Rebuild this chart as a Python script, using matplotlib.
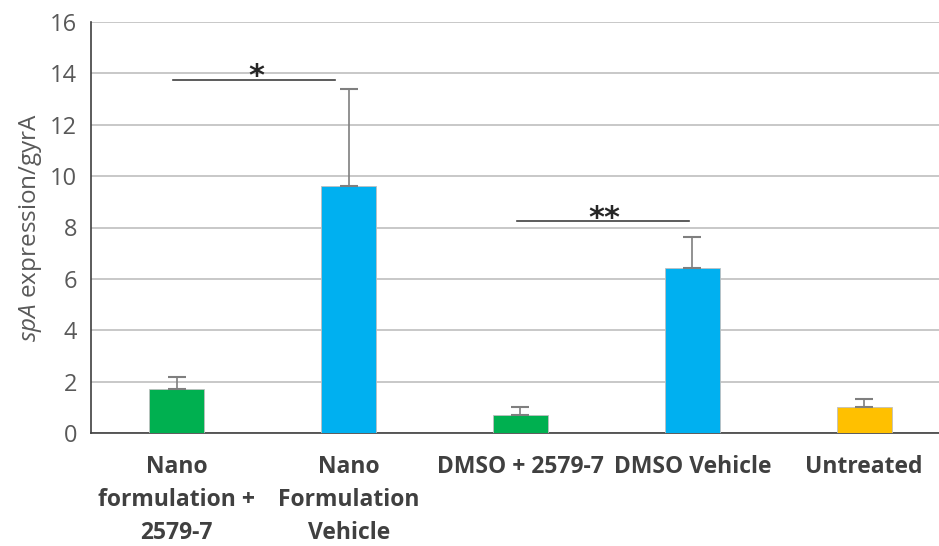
import numpy as np
import matplotlib
matplotlib.use('Agg')
from matplotlib import pyplot as plt

categories = ['Nano\nformulation +\n2579-7', 'Nano\nFormulation\nVehicle',
              'DMSO + 2579-7', 'DMSO Vehicle', 'Untreated']
values = [1.70, 9.62, 0.71, 6.41, 1.02]
errors = [0.49, 3.76, 0.29, 1.22, 0.30]
colors = ['#00B050', '#00B0F0', '#00B050', '#00B0F0', '#FFC000']
y_ticks = [0, 2, 4, 6, 8, 10, 12, 14, 16]

# significance brackets: (left index, right x, y, label)
sig_marks = [(0, 0.92, 13.75, '*'), (2, 2.98, 8.25, '**')]

plt.rcParams['font.family'] = ['Open Sans', 'DejaVu Sans']
plt.rcParams['mathtext.fontset'] = 'custom'
plt.rcParams['mathtext.it'] = 'Open Sans:italic'
plt.rcParams['mathtext.rm'] = 'Open Sans'

fig = plt.figure(figsize=(9.39, 5.46), dpi=100)
ax = fig.add_axes([91 / 939, 113 / 546, 848 / 939, 411 / 546])

x = np.arange(len(categories))
ax.bar(x, values, width=0.32, color=colors, edgecolor='#BFBFBF', linewidth=0.6, zorder=3)
ax.errorbar(x, values, yerr=[np.zeros(len(errors)), errors], fmt='none',
            ecolor='#7F7F7F', elinewidth=1.2, capsize=6.5, capthick=1.5, zorder=4)

for i, xr, yv, lab in sig_marks:
    ax.plot([x[i] - 0.02, xr], [yv, yv], color='#404040', lw=1.2, zorder=5)
    ax.text((x[i] + xr) / 2, yv - 0.45, lab, ha='center', va='bottom',
            fontsize=22, fontweight='bold', color='#262626', fontfamily='DejaVu Sans')

ax.set_ylim(0, 16)
ax.set_xlim(-0.5, 4.436)
ax.set_yticks(y_ticks)
ax.yaxis.grid(True, color='#BFBFBF', lw=1.2, zorder=0)
ax.set_axisbelow(True)
ax.tick_params(axis='y', length=0, pad=10, labelsize=17, labelcolor='#595959')
ax.tick_params(axis='x', length=0, pad=16)
ax.set_xticks(x)
ax.set_xticklabels(categories, fontsize=16.5, fontweight='bold', color='#404040',
                   linespacing=1.5)

for s in ['top', 'right']:
    ax.spines[s].set_visible(False)
ax.spines['left'].set_color('#404040')
ax.spines['bottom'].set_color('#404040')
ax.spines['left'].set_linewidth(1.2)
ax.spines['bottom'].set_linewidth(1.2)

ax.set_ylabel(r'$\it{spA}$ expression/gyrA', fontsize=17.5, color='#595959', labelpad=4)

fig.savefig('out.png', dpi=100)
